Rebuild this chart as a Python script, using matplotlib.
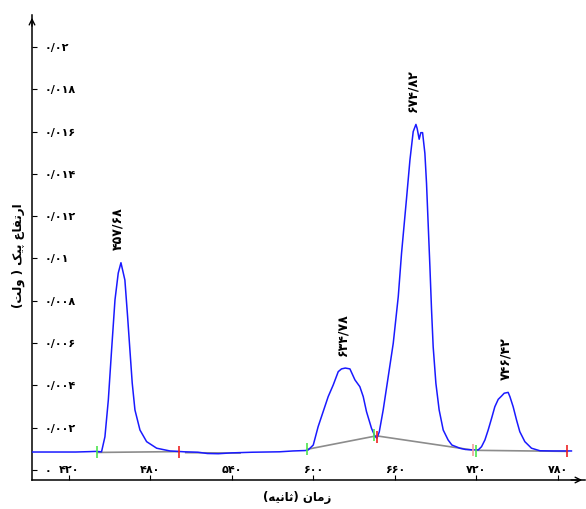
import matplotlib
matplotlib.use('Agg')
import matplotlib.pyplot as plt

plt.rcParams['font.family'] = ['DejaVu Sans']

# chromatogram trace (time in s, signal in V)
time = [393, 410, 425, 436, 440, 444, 446.5, 449, 451.4, 453.9, 456.3, 458.3,
        461.2, 463.2, 464.9, 466.6, 468.6, 472.3, 477.2, 484.6, 494.4, 505,
        515, 522, 530, 540, 555, 575, 585, 594, 596.2, 599.9, 603.5, 607.2,
        610.9, 614.6, 618.3, 620.7, 623.5, 626.9, 630.6, 634.2, 636.7, 639.1,
        642.8, 645.3, 646.8, 648.5, 651.4, 655.1, 658.8, 662.5, 664.9, 668.6,
        671.1, 673.5, 675.5, 676.4, 677.9, 679.1, 680.4, 682.1, 683.3, 684.5,
        685.8, 687, 688.2, 690.2, 692.6, 695.6, 699.2, 702, 707.9, 712, 717.7,
        721.4, 723.8, 726.3, 728.7, 731.2, 733.6, 736.1, 738.6, 740.5, 743.4,
        744.7, 747.1, 749.6, 752, 755.7, 760.6, 766.8, 776.6, 790]
signal = [0.00085, 0.00085, 0.00085, 0.00087, 0.00088, 0.00086, 0.00157, 0.00331,
          0.00567, 0.00804, 0.00931, 0.0098, 0.00898, 0.00725, 0.00567, 0.00411,
          0.00284, 0.00189, 0.00134, 0.00103, 0.0009, 0.00086, 0.00084, 0.00078,
          0.00077, 0.00081, 0.00084, 0.00086, 0.0009, 0.00092, 0.00095, 0.00118,
          0.00205, 0.00276, 0.00347, 0.00402, 0.00465, 0.00478, 0.00482, 0.00478,
          0.00426, 0.00394, 0.00347, 0.00276, 0.00197, 0.0016, 0.0015, 0.0018,
          0.00284, 0.00441, 0.00599, 0.0082, 0.01024, 0.01285, 0.01466, 0.016,
          0.01634, 0.01615, 0.01564, 0.01595, 0.01595, 0.01497, 0.01356, 0.01166,
          0.00961, 0.00757, 0.00583, 0.0041, 0.00284, 0.00189, 0.00142, 0.00118,
          0.00103, 0.00097, 0.00095, 0.00095, 0.0011, 0.00142, 0.00189, 0.00244,
          0.00299, 0.00334, 0.0035, 0.00363, 0.00367, 0.00347, 0.00299, 0.00236,
          0.00181, 0.00134, 0.00103, 0.00091, 0.0009, 0.0009]

# integration baselines (start t, start v, end t, end v)
base_t0 = [441, 506, 595.6, 647, 719.7]
base_v0 = [0.00083, 0.00082, 0.00098, 0.00161, 0.00093]
base_t1 = [501, 546, 646, 716.5, 787]
base_v1 = [0.00087, 0.00080, 0.00161, 0.00095, 0.00088]

# peak start / end marks
mark_t = [440.6, 501, 595.6, 644.5, 647, 717.2, 719.4, 787]
mark_v = [0.00084, 0.00087, 0.00098, 0.00165, 0.00155, 0.00095, 0.00091, 0.0009]
mark_c = ['#4ee44e', '#ee2222', '#4ee44e', '#4ee44e', '#ee2222', '#f0a0a0', '#4ee44e', '#ee2222']

# peak retention-time labels and the window the apex lies in
peak_labels = ['۴۵۷/۶۸', '۶۳۴/۷۸', '۶۷۴/۸۲', '۷۴۶/۴۲']
peak_lo = [440, 600, 650, 722]
peak_hi = [500, 645, 700, 770]

xticks = [420, 480, 540, 600, 660, 720, 780]
xtick_labels = ['۴۲۰', '۴۸۰', '۵۴۰', '۶۰۰', '۶۶۰', '۷۲۰', '۷۸۰']
yticks = [0, 0.002, 0.004, 0.006, 0.008, 0.01, 0.012, 0.014, 0.016, 0.018, 0.02]
ytick_labels = ['۰', '۰/۰۰۲', '۰/۰۰۴', '۰/۰۰۶', '۰/۰۰۸', '۰/۰۱', '۰/۰۱۲',
                '۰/۰۱۴', '۰/۰۱۶', '۰/۰۱۸', '۰/۰۲']

# Persian labels in visual order with presentation forms (matplotlib does no shaping)
xlabel = '(\ufeea\ufbff\ufee7\ufe8e\ufe9b) \ufee5\ufe8e\ufee3\ufeaf'
ylabel = '(\ufe96\ufedf\ufeed ) \ufb8f\ufbff\ufb58 \ufec9\ufe8e\ufed4\ufe97\ufead\ufe8d'

fig = plt.figure(figsize=(5.86, 5.09), dpi=100)
ax = fig.add_axes([32 / 586, 29 / 509, 553 / 586, 465 / 509])

for i in range(len(base_t0)):
    ax.plot([base_t0[i], base_t1[i]], [base_v0[i], base_v1[i]], color='#8c8c8c', lw=1.2, zorder=2)
ax.plot(time, signal, color='#1a1aff', lw=1.1, zorder=3)
for t, v, c in zip(mark_t, mark_v, mark_c):
    ax.plot(t, v, marker='|', markersize=9, mew=1.2, color=c, zorder=4)

for lab, lo, hi in zip(peak_labels, peak_lo, peak_hi):
    idx = [i for i in range(len(time)) if lo <= time[i] <= hi]
    k = max(idx, key=lambda i: signal[i])
    ax.annotate(lab, (time[k], signal[k]), xytext=(-2, 9), textcoords='offset points',
                rotation=90, ha='center', va='bottom', fontsize=9, fontweight='bold')

ax.set_xlim(392.8, 800)
ax.set_ylim(-0.000473, 0.021513)
ax.spines['top'].set_visible(False)
ax.spines['right'].set_visible(False)
ax.spines['left'].set_linewidth(1.1)
ax.spines['bottom'].set_linewidth(1.1)

ax.set_xticks(xticks)
ax.set_xticklabels(xtick_labels, fontsize=8, fontweight='bold')
ax.set_yticks(yticks)
ax.set_yticklabels(ytick_labels, fontsize=8, fontweight='bold')
ax.tick_params(axis='x', direction='in', length=3.5, pad=-10.5)
ax.tick_params(axis='y', direction='in', length=3.5, pad=-9)
for lbl in ax.get_yticklabels():
    lbl.set_horizontalalignment('left')

# axis arrows
ax.annotate('', xy=(0, 1.0), xytext=(0, 0.97), xycoords='axes fraction',
            arrowprops=dict(arrowstyle='->', lw=1.0, color='black'))
ax.annotate('', xy=(1.0, 0), xytext=(0.97, 0), xycoords='axes fraction',
            arrowprops=dict(arrowstyle='->', lw=1.0, color='black'))

fig.text(18 / 586, 1 - 256 / 509, ylabel, rotation=90, ha='center', va='center',
         fontsize=8.5, fontweight='bold')
fig.text(297 / 586, 1 - 497 / 509, xlabel, ha='center', va='center',
         fontsize=8.5, fontweight='bold')

fig.savefig('out.png', dpi=100)
